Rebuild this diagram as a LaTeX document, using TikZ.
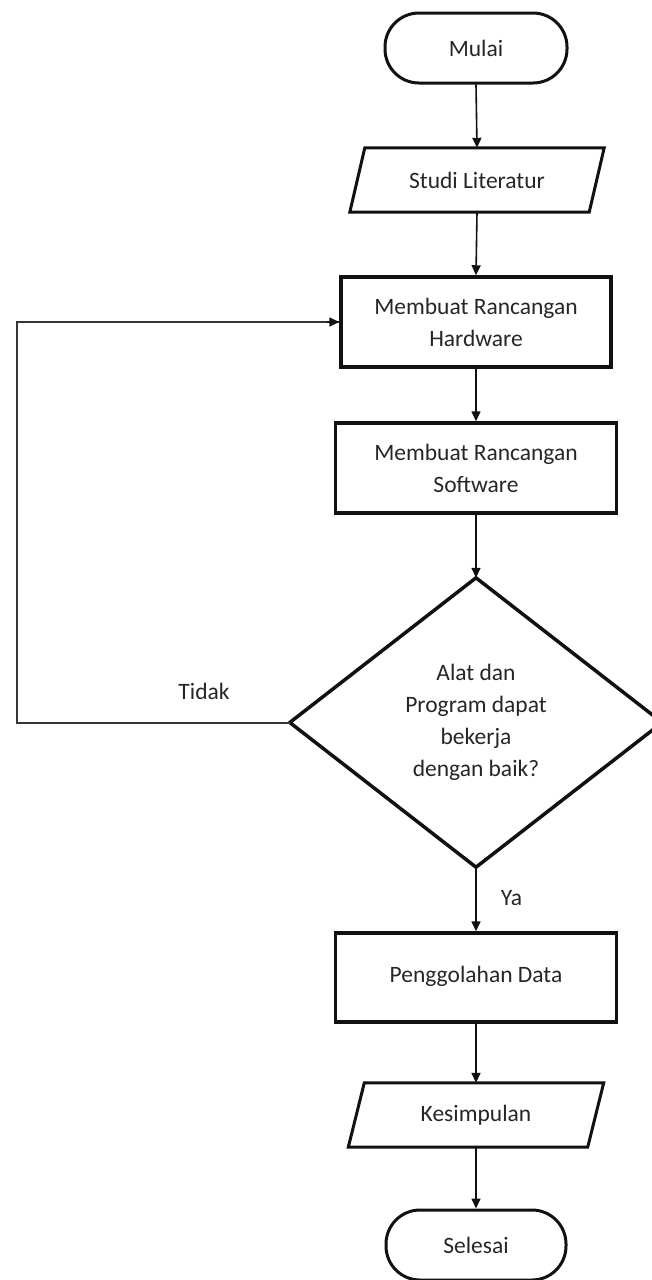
\documentclass[tikz,border=0pt]{standalone}
\usepackage{fontspec}
\setmainfont{Carlito}
\usetikzlibrary{arrows.meta,calc}
\definecolor{txt}{HTML}{262626}
\definecolor{ln}{HTML}{111111}
\begin{document}
\begin{tikzpicture}[x=1pt,y=-1pt,
  every node/.style={font=\fontsize{23.5}{32}\selectfont, text=txt, inner sep=0pt},
  term/.style={draw=ln, line width=3pt, rounded corners=34pt, minimum width=182pt, minimum height=70pt},
  proc/.style={draw=ln, line width=3.5pt, minimum height=90pt, align=center},
  io/.style={minimum width=254pt, minimum height=64pt},
  iostroke/.style={draw=ln, line width=3pt},
  dia/.style={draw=ln, line width=3.5pt, line join=miter},
  arr/.style={draw=ln, line width=1.6pt, -{Triangle[length=10pt,width=9pt]}},
  fbline/.style={draw=ln!85!white, line width=2pt}
]
\useasboundingbox (0,0) rectangle (651,1280);

\node[term] (m) at (476,48) {Mulai};
\node[io] (s) at (477,180) {Studi Literatur};
\draw[iostroke] (s.south west) -- ($(s.north west)+(15,0)$) -- (s.north east) -- ($(s.south east)+(-15,0)$) -- cycle;
\node[proc, minimum width=270pt] (h) at (476,322) {Membuat Rancangan\\Hardware};
\node[proc, minimum width=281pt] (sw) at (476,468) {Membuat Rancangan\\Software};
\node[minimum width=372pt, minimum height=289pt, align=center] (d) at (476,722.5) {Alat dan\\Program dapat\\bekerja\\dengan baik?};
\draw[dia] (d.north) -- (d.east) -- (d.south) -- (d.west) -- cycle;
\node[proc, minimum width=281pt, minimum height=89pt] (p) at (476,977.5) {\raisebox{6pt}{Penggolahan Data}};
\node[io, minimum width=255pt] (k) at (476,1115) {Kesimpulan};
\draw[iostroke] (k.south west) -- ($(k.north west)+(16,0)$) -- (k.north east) -- ($(k.south east)+(-16,0)$) -- cycle;
\node[term, minimum width=180pt] (e) at (476,1245) {Selesai};

\node[anchor=base] (tidak) at (204,699) {Tidak};
\node[anchor=base] (ya) at (511.5,905) {Ya};

\draw[arr] (m.south) -- (s.north);
\draw[arr] (s.south) -- (h.north);
\draw[arr] (h.south) -- (sw.north);
\draw[arr] (sw.south) -- (d.north);
\draw[arr] (d.south) -- (p.north);
\draw[arr] (p.south) -- (k.north);
\draw[arr] (k.south) -- (e.north);

\coordinate (fb) at (17,320);
\draw[fbline] (d.west) -- (d.west -| fb) |- (h.west);
\draw[arr] ($(h.west)+(-12,0)$) -- (h.west);
\end{tikzpicture}
\end{document}
